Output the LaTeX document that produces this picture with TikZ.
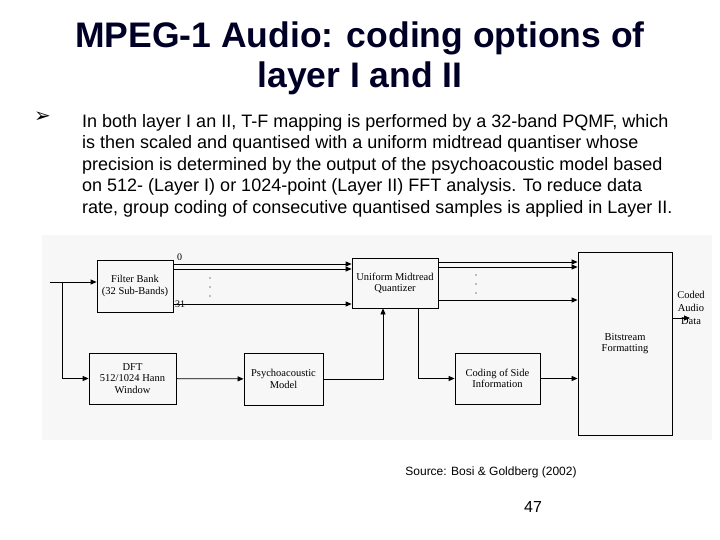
\documentclass[tikz,border=0pt]{standalone}
\usepackage{fontspec}
\setmainfont{Liberation Sans}
\newfontfamily\serifd{Liberation Serif}
\newfontfamily\dejavu{DejaVu Sans}
\usetikzlibrary{arrows.meta}
\begin{document}
\begin{tikzpicture}[x=1pt,y=-1pt,
  blk/.style={draw,line width=0.8pt,font=\serifd\fontsize{10.5}{11.5}\selectfont,align=center,inner sep=0pt},
  ar/.style={-{Triangle[length=6pt,width=5pt]},line width=0.8pt},
  dot/.style={circle,fill,inner sep=0.5pt}]
\useasboundingbox (0,0) rectangle (720,540);
\fill[gray!6] (42,235) rectangle (712,440);
\node[font=\bfseries\fontsize{35.5}{40}\selectfont,align=center,text=black!85!blue] (title) at (360,58) {MPEG-1 Audio: coding options of\\layer I and II};
\node[anchor=north west,inner sep=0pt] (bul) at (34,112) {\dejavu\bfseries\fontsize{20}{20}\selectfont\char"27A2};
\node[anchor=north west,align=left,font=\fontsize{18}{21.5}\selectfont,inner sep=0pt] (body) at (82,114) {In both layer I an II, T-F mapping is performed by a 32-band PQMF, which\\is then scaled and quantised with a uniform midtread quantiser whose\\precision is determined by the output of the psychoacoustic model based\\on 512- (Layer I) or 1024-point (Layer II) FFT analysis.  To reduce data\\rate, group coding of consecutive quantised samples is applied in Layer II.};
\node[blk,minimum width=76,minimum height=52] (fb) at (135,286) {Filter Bank\\(32 Sub-Bands)};
\node[blk,minimum width=86,minimum height=50] (q) at (395,283) {Uniform Midtread\\Quantizer};
\node[blk,minimum width=94,minimum height=183] (bs) at (625,343.5) {Bitstream\\Formatting};
\node[blk,minimum width=87,minimum height=51] (dft) at (132.5,378.5) {DFT\\512/1024 Hann\\Window};
\node[blk,minimum width=79,minimum height=52] (pm) at (283.5,379) {Psychoacoustic\\Model};
\node[blk,minimum width=85,minimum height=51] (si) at (497.5,378.5) {Coding of Side\\Information};
\coordinate (in) at (50,282);
\coordinate (j) at (62,282);
\draw[ar] (in) -- (fb.west|-in);
\draw[ar] (j) |- (dft.west);
\draw[ar] (fb.east|-0,264) -- (q.west|-0,264);
\draw[ar] (fb.east|-0,269) -- (q.west|-0,269);
\draw[ar] (fb.east|-0,304) -- (q.west|-0,304);
\node[font=\serifd\fontsize{10}{10}\selectfont,anchor=south west,inner sep=1pt] (l0) at (176,262) {0};
\node[font=\serifd\fontsize{10}{10}\selectfont,anchor=south west,inner sep=1pt] (l31) at (174,309) {31};
\node[dot] (d1a) at (210,278) {}; \node[dot] (d1b) at (210,287) {}; \node[dot] (d1c) at (210,296) {};
\draw[ar] (q.east|-0,262) -- (bs.west|-0,262);
\draw[ar] (q.east|-0,267) -- (bs.west|-0,267);
\draw[ar] (q.east|-0,300) -- (bs.west|-0,300);
\node[dot] (d2a) at (476,275) {}; \node[dot] (d2b) at (476,284) {}; \node[dot] (d2c) at (476,293) {};
\draw[ar] (dft) -- (pm);
\draw[ar] (pm.east) -| (q.south-|383,0);
\draw[ar] (q.south-|418,0) |- (si.west);
\draw[ar] (si.east) -- (bs.west|-si.east);
\coordinate (out) at (690,318);
\draw[ar] (bs.east|-out) -- (out);
\node[font=\serifd\fontsize{10.5}{13}\selectfont,align=center] (cad) at (691,308) {Coded\\Audio\\Data};
\node[font=\fontsize{12}{12}\selectfont] (src) at (491,472) {Source: Bosi \& Goldberg (2002)};
\node[font=\fontsize{16}{16}\selectfont] (pg) at (533,507) {47};
\end{tikzpicture}
\end{document}
